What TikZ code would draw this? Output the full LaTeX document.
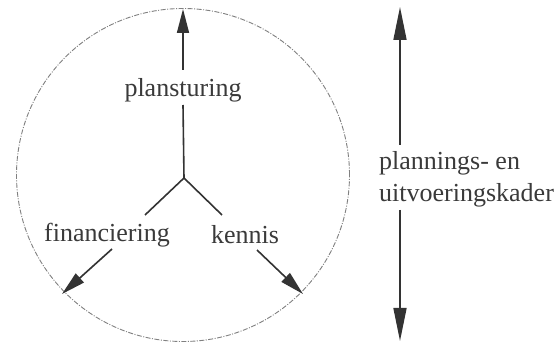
\documentclass[tikz,border=0pt]{standalone}
\usepackage{fontspec}
\setmainfont{Liberation Serif}
\usetikzlibrary{arrows.meta}
\definecolor{ink}{HTML}{333333}
\definecolor{txt}{HTML}{3A3A3A}
\begin{document}
\begin{tikzpicture}[x=1pt,y=-1pt,
  lbl/.style={text=txt,font=\fontsize{26}{32}\selectfont,inner sep=0pt},
  conn/.style={draw=ink,line width=1.6pt},
  arr/.style={conn,-{Triangle[length=24pt,width=12pt]}},
  longarr/.style={conn,-{Triangle[length=33pt,width=13pt]}},
  ring/.style={draw=gray,line width=0.9pt,dash pattern=on 5pt off 1.5pt on 1pt off 1.5pt}]
\useasboundingbox (0,0) rectangle (558,342);
\fill[white] (0,0) rectangle (558,342);
% circle
\node[ring,circle,minimum size=333pt,inner sep=0pt] (ring) at (183,175) {};
% labels
\node[lbl] (plan) at (183,90) {plansturing};
\node[lbl] (fin) at (107,235) {financiering};
\node[lbl] (ken) at (245,235) {kennis};
\node[lbl,align=left,anchor=west] (kader) at (379,179) {plannings- en\\uitvoeringskader};
% coordinates
\coordinate (J) at (184,178);
\coordinate (planBot) at (183,105);
\coordinate (planTop) at (183,70);
\coordinate (planTip) at (183,9);
\coordinate (finEnd) at (145,215);
\coordinate (kenEnd) at (222,215);
\coordinate (finStart) at (112,249);
\coordinate (finTip) at (62,294);
\coordinate (kenStart) at (257,250);
\coordinate (kenTip) at (303,294);
\coordinate (kTopStart) at (400,145);
\coordinate (kTopTip) at (400,7);
\coordinate (kBotStart) at (400,210);
\coordinate (kBotTip) at (400,341);
% connectors
\draw[conn] (planBot) -- (J);
\draw[conn] (J) -- (finEnd);
\draw[conn] (J) -- (kenEnd);
\draw[arr] (planTop) -- (planTip);
\draw[arr] (finStart) -- (finTip);
\draw[arr] (kenStart) -- (kenTip);
\draw[longarr] (kTopStart) -- (kTopTip);
\draw[longarr] (kBotStart) -- (kBotTip);
\end{tikzpicture}
\end{document}
